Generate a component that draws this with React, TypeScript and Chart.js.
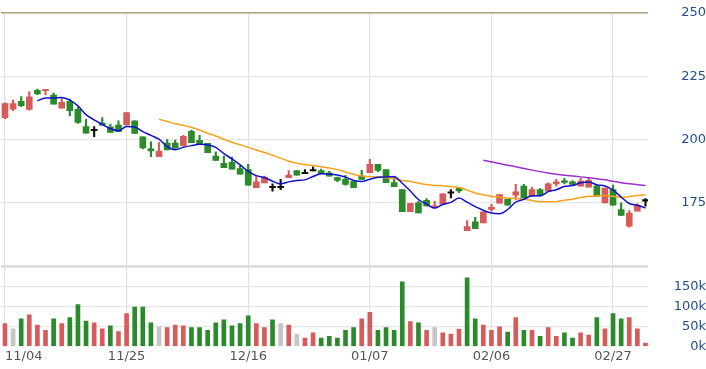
import React, { useEffect, useRef } from 'react';
import { Chart, registerables } from 'chart.js';

Chart.register(...registerables);

// ---- data (80 trading days) ----
const opens = [
  208.7, 212.0, 215.1, 211.9, 219.5, 219.3, 217.6, 212.4, 215.1, 212.0,
  205.1, 203.5, 206.5, 205.0, 205.7, 205.8, 207.4, 201.1, 196.4, 193.3,
  198.6, 198.6, 197.6, 203.3, 199.7, 198.5, 193.5, 190.6, 191.0, 188.6,
  188.2, 181.0, 182.9, 181.0, 181.0, 185.0, 187.8, 186.5, 187.6, 187.8,
  186.9, 185.0, 184.3, 183.4, 185.6, 186.9, 190.2, 188.2, 183.0, 180.3,
  171.5, 175.0, 176.0, 173.0, 174.6, 178.8, 181.0, 164.0, 167.5, 167.1,
  172.4, 174.9, 176.4, 178.1, 181.6, 177.7, 180.3, 179.6, 182.5, 183.6,
  183.3, 181.6, 181.2, 181.6, 175.0, 180.3, 172.4, 165.8, 171.7, 175.7,
];
const highs = [
  214.5, 215.6, 217.0, 219.0, 220.0, 219.7, 218.4, 216.3, 216.0, 212.7,
  208.0, 205.1, 208.7, 206.1, 207.4, 210.7, 207.4, 201.1, 199.1, 198.8,
  200.0, 199.8, 201.7, 203.8, 201.7, 198.5, 195.2, 193.5, 193.1, 189.6,
  190.2, 185.6, 185.6, 182.5, 184.3, 187.8, 187.8, 188.2, 189.2, 188.4,
  187.6, 185.2, 185.9, 183.4, 187.9, 192.2, 190.2, 188.2, 185.6, 180.3,
  174.8, 175.7, 176.7, 175.7, 178.6, 180.3, 181.0, 168.0, 169.3, 171.5,
  174.4, 178.3, 176.7, 182.3, 182.3, 181.2, 180.7, 182.9, 184.3, 184.7,
  183.8, 184.7, 184.7, 182.3, 180.9, 182.0, 175.0, 172.0, 174.6, 176.7,
];
const lows = [
  208.3, 211.4, 213.0, 211.6, 217.7, 217.6, 214.0, 212.4, 209.4, 206.4,
  202.5, 201.2, 205.7, 202.8, 203.1, 205.8, 202.4, 196.3, 193.3, 193.3,
  195.9, 196.6, 197.6, 198.8, 198.0, 194.8, 191.8, 188.9, 188.3, 186.3,
  182.0, 181.0, 182.9, 179.6, 180.2, 185.0, 186.0, 186.5, 187.6, 186.5,
  185.6, 183.4, 182.0, 181.0, 184.3, 186.9, 187.3, 183.0, 181.4, 171.5,
  171.5, 171.0, 173.7, 173.0, 174.6, 177.0, 179.0, 164.0, 164.8, 167.1,
  171.7, 174.9, 174.1, 176.4, 177.0, 177.7, 178.0, 179.6, 181.6, 182.5,
  182.3, 181.6, 181.2, 177.7, 175.0, 174.1, 170.1, 165.4, 171.7, 173.7,
];
const closes = [
  214.2, 214.2, 213.4, 216.9, 218.0, 219.7, 214.0, 214.7, 211.4, 206.8,
  202.5, 203.5, 205.7, 202.8, 203.1, 210.7, 202.4, 196.7, 195.5, 195.5,
  195.9, 196.6, 201.3, 198.8, 198.0, 194.8, 191.8, 188.9, 188.3, 186.3,
  182.0, 183.3, 185.2, 181.0, 181.0, 186.0, 186.0, 186.5, 187.6, 186.5,
  185.6, 183.9, 182.3, 181.0, 184.3, 190.2, 187.8, 183.0, 181.4, 171.5,
  174.8, 171.0, 173.8, 173.8, 178.6, 178.8, 179.7, 165.6, 164.8, 171.5,
  173.3, 178.3, 174.1, 179.4, 177.0, 180.3, 178.0, 182.5, 183.3, 183.1,
  182.3, 183.6, 183.9, 177.7, 180.9, 174.1, 170.1, 171.0, 174.1, 175.7,
];
const volumes = [
  57000, 44000, 69000, 79000, 53000, 40000, 69000, 57000, 72000, 104000,
  63000, 59000, 44000, 51000, 37000, 82000, 98000, 98000, 59000, 49000,
  47000, 53000, 51000, 47000, 47000, 40000, 59000, 66000, 51000, 57000,
  76000, 57000, 47000, 66000, 57000, 53000, 31000, 21000, 34000, 21000,
  25000, 21000, 40000, 47000, 69000, 85000, 40000, 47000, 40000, 161000,
  62000, 59000, 40000, 47000, 34000, 31000, 43000, 171000, 69000, 53000,
  40000, 49000, 36000, 72000, 40000, 40000, 25000, 47000, 25000, 34000,
  21000, 34000, 28000, 72000, 44000, 82000, 69000, 72000, 44000, 8000,
];
const priorClose = 209.0;
const tickIndex = [0, 15, 30, 45, 60, 75];
const tickLabels = ['11/04', '11/25', '12/16', '01/07', '02/06', '02/27'];
const priceTicks = [250, 225, 200, 175, 150];
const volumeTicks = [0, 50000, 100000, 150000, 200000];
const maPeriods = [5, 20, 60];

// ---- styles / layout ----
const RED = '#d65c5c';
const GREEN = '#2b8a2b';
const BLACK = '#111111';
const GREY = '#c6c6c6';
const MA_COLORS = ['#1010cc', '#f5a21e', '#9a2fd2'];
const GRID = '#e6e6e6';
const SEP = '#dddddd';
const OLIVE = '#aaa27a';
const YTXT = '#1f4f8a';
const XTXT = '#555555';
const FONT_FAMILY = "'DejaVu Sans'";
const FONT_SIZE = 13;

function movingAverage(values: number[], n: number) {
  const out: { x: number; y: number }[] = [];
  for (let i = n - 1; i < values.length; i++) {
    let s = 0;
    for (let k = i - n + 1; k <= i; k++) s += values[k];
    out.push({ x: i, y: s / n });
  }
  return out;
}

export default function App() {
  const ref = useRef<HTMLCanvasElement | null>(null);

  useEffect(() => {
    if (!ref.current) return;
    const m = document.createElement('canvas').getContext('2d')!;
    m.font = `${FONT_SIZE}px ${FONT_FAMILY}`;
    const wPrice = m.measureText('250').width;
    const wVol = m.measureText('150k').width;
    const axisWidth = 58;
    const labelRight = 49;

    const candleColor = (i: number) =>
      closes[i] > opens[i] ? RED : closes[i] < opens[i] ? GREEN : BLACK;
    const volColor = (i: number) => {
      const prev = i === 0 ? priorClose : closes[i - 1];
      return closes[i] > prev ? RED : closes[i] < prev ? GREEN : GREY;
    };
    const idx = closes.map((_, i) => i);
    const font = { family: FONT_FAMILY, size: FONT_SIZE };
    const fitY = (s: any) => {
      s.width = axisWidth;
      s.paddingTop = 0;
      s.paddingBottom = 0;
    };

    const chart = new Chart(ref.current, {
      type: 'bar',
      data: {
        datasets: [
          ...maPeriods.map((p, k) => ({
            type: 'line' as const,
            data: movingAverage(closes, p),
            borderColor: MA_COLORS[k],
            borderWidth: 1.5,
            pointRadius: 0,
            cubicInterpolationMode: 'monotone' as const,
            yAxisID: 'yP',
            order: 0,
          })),
          {
            type: 'bar' as const,
            data: idx.map((i) => ({ x: i, y: [Math.min(opens[i], closes[i]), Math.max(opens[i], closes[i])] })),
            backgroundColor: idx.map(candleColor),
            barThickness: 6,
            minBarLength: 1.5,
            grouped: false,
            yAxisID: 'yP',
            order: 1,
          },
          {
            type: 'bar' as const,
            data: idx.map((i) => ({ x: i, y: [lows[i], highs[i]] })),
            backgroundColor: idx.map(candleColor),
            barThickness: 1.5,
            minBarLength: 1,
            grouped: false,
            yAxisID: 'yP',
            order: 2,
          },
          {
            type: 'bar' as const,
            data: idx.map((i) => ({ x: i, y: volumes[i] })),
            backgroundColor: idx.map(volColor),
            barThickness: 4,
            grouped: false,
            yAxisID: 'yV',
            order: 3,
          },
        ] as any,
      },
      options: {
        animation: false,
        responsive: false,
        devicePixelRatio: 1,
        layout: { padding: { left: 1, right: 0, top: 13, bottom: 3 } },
        plugins: { legend: { display: false }, tooltip: { enabled: false } },
        scales: {
          x: {
            type: 'linear',
            min: -0.49,
            max: 79.31,
            offset: false,
            afterBuildTicks: (s: any) => {
              s.ticks = [...tickIndex.map((v) => ({ value: v })), { value: s.max }];
            },
            ticks: {
              autoSkip: false,
              maxRotation: 0,
              align: 'inner',
              padding: 2,
              color: XTXT,
              font,
              callback: (v: any) => {
                const k = tickIndex.indexOf(v);
                return k >= 0 ? tickLabels[k] : '';
              },
            },
            grid: {
              offset: false,
              drawTicks: false,
              lineWidth: 1.2,
              color: (ctx: any) =>
                ctx.tick && tickIndex.includes(ctx.tick.value) ? '#e2e2e2' : 'rgba(0,0,0,0)',
            },
            border: { display: false },
          },
          yP: {
            type: 'linear',
            position: 'right',
            stack: 'pane',
            stackWeight: 251,
            min: priceTicks[priceTicks.length - 1],
            max: priceTicks[0],
            afterBuildTicks: (s: any) => {
              s.ticks = priceTicks.map((v) => ({ value: v }));
            },
            afterFit: fitY,
            ticks: {
              autoSkip: false,
              crossAlign: 'far',
              padding: labelRight - wPrice,
              color: YTXT,
              font,
              callback: (v: any) => (v === 150 ? '' : String(v)),
            },
            grid: {
              drawTicks: false,
              color: (ctx: any) =>
                ctx.tick?.value === 250 ? OLIVE : ctx.tick?.value === 150 ? SEP : GRID,
              lineWidth: (ctx: any) =>
                ctx.tick?.value === 250 ? 1.5 : ctx.tick?.value === 150 ? 2.5 : 1.2,
            },
            border: { display: false },
          },
          yV: {
            type: 'linear',
            position: 'right',
            stack: 'pane',
            stackWeight: 79.5,
            min: volumeTicks[0],
            max: volumeTicks[volumeTicks.length - 1],
            afterBuildTicks: (s: any) => {
              s.ticks = volumeTicks.map((v) => ({ value: v }));
            },
            afterFit: fitY,
            ticks: {
              autoSkip: false,
              crossAlign: 'far',
              padding: labelRight - wVol,
              color: YTXT,
              font,
              callback: (v: any) => (v === 200000 ? '' : `${v / 1000}k`),
            },
            grid: {
              drawTicks: false,
              color: (ctx: any) =>
                ctx.tick?.value === 0 ? 'rgba(0,0,0,0)' : ctx.tick?.value === 200000 ? SEP : GRID,
              lineWidth: (ctx: any) => (ctx.tick?.value === 200000 ? 2.5 : 1.2),
            },
            border: { display: false },
          },
        },
      } as any,
    });
    return () => chart.destroy();
  }, []);

  return (
    <div style={{ position: 'absolute', left: 0, top: 0, width: 706, height: 369, background: '#fff' }}>
      <canvas ref={ref} width={706} height={369} style={{ display: 'block' }} />
    </div>
  );
}
